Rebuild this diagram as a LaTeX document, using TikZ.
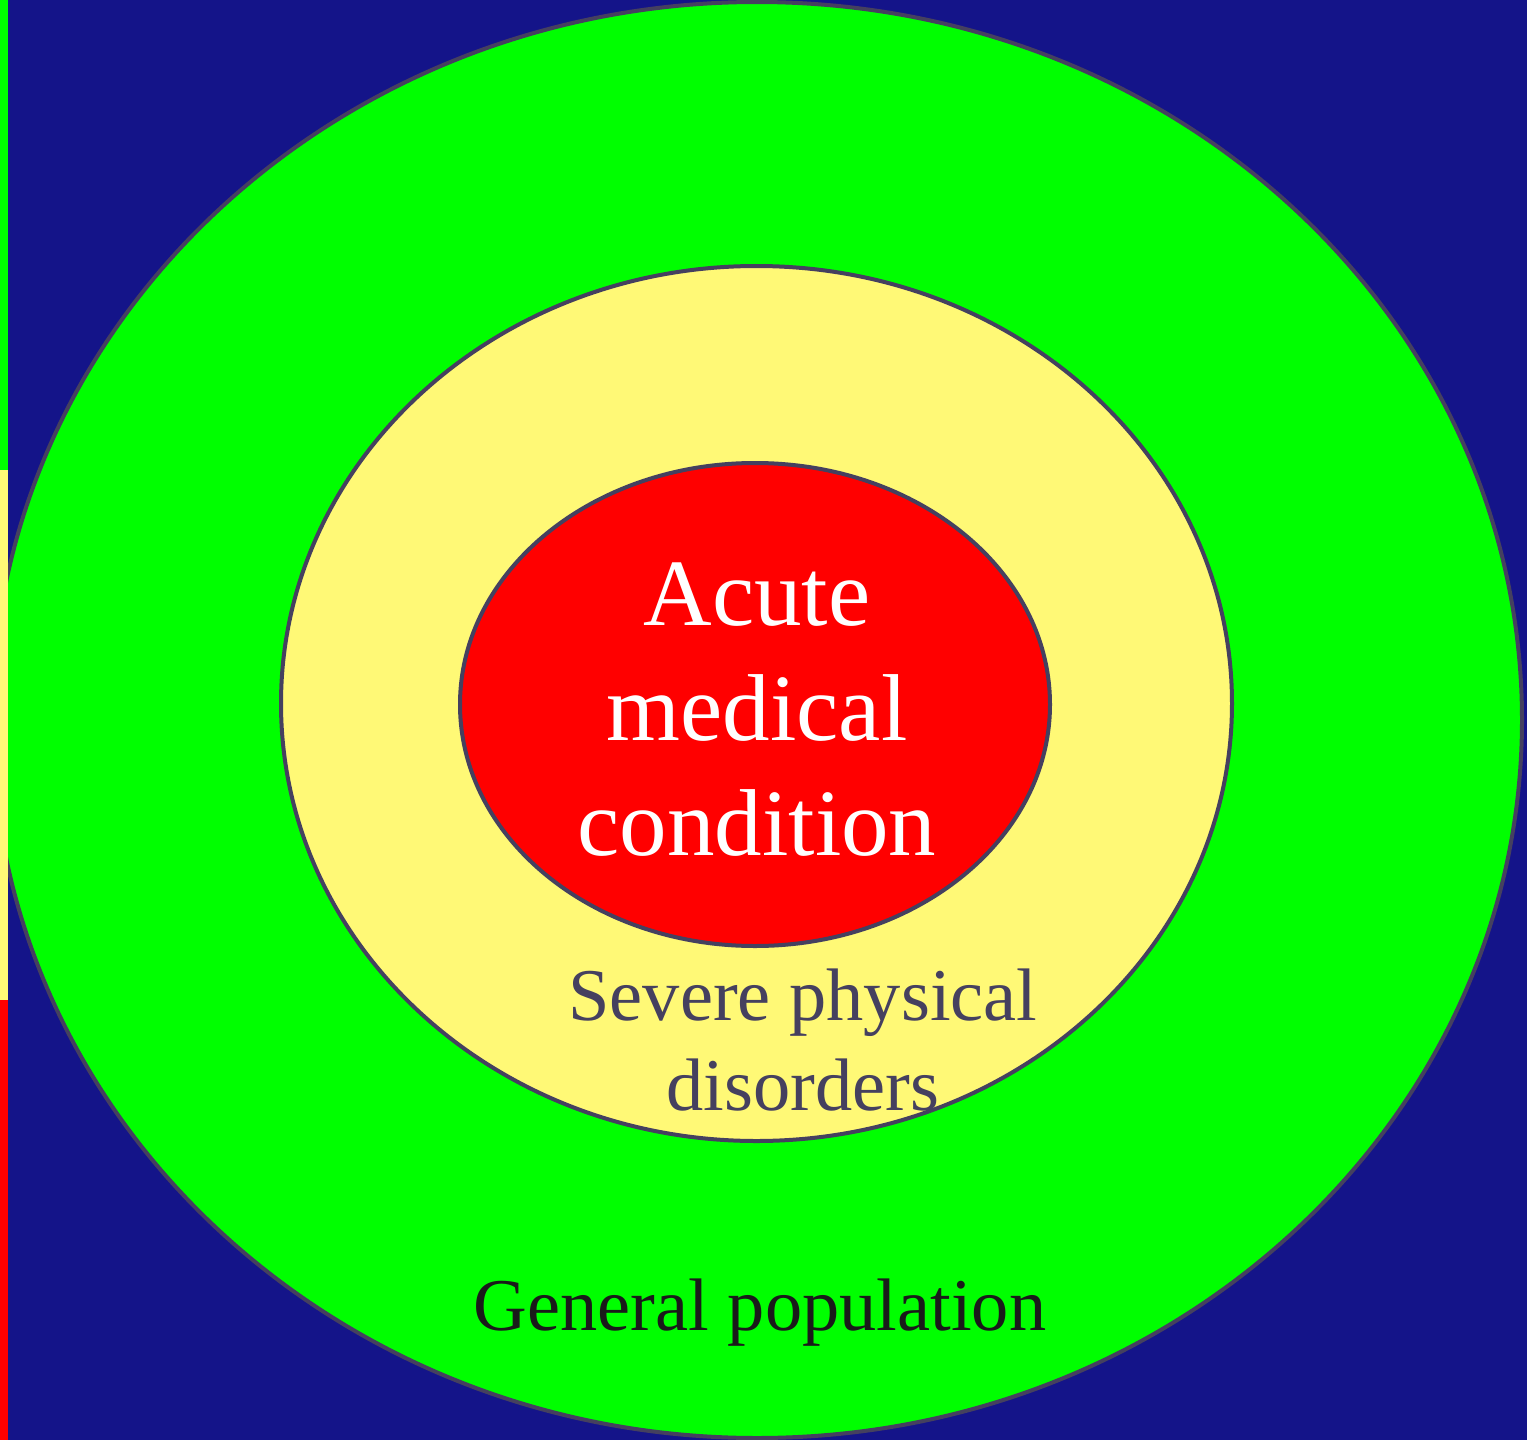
\documentclass[tikz,border=0pt]{standalone}
\usepackage{fontspec}
\setmainfont{Liberation Serif}
\definecolor{navy}{HTML}{141489}
\definecolor{ringgreen}{HTML}{00FF00}
\definecolor{ringyellow}{HTML}{FFF976}
\definecolor{ringred}{HTML}{FF0000}
\definecolor{rim}{HTML}{45405F}
\definecolor{darktext}{HTML}{1A1A1A}
\begin{document}
\begin{tikzpicture}[x=1pt,y=-1pt,
  ring/.style={draw=rim, line width=4pt},
  bigtext/.style={anchor=base, inner sep=0pt, font=\fontsize{95}{114}\selectfont, text=white},
  midtext/.style={anchor=base, inner sep=0pt, font=\fontsize{74.4}{90}\selectfont}]
  \useasboundingbox (0,0) rectangle (1527,1440);
  \fill[navy] (0,0) rectangle (1527,1440);
  \filldraw[ring, fill=ringgreen] (757,720) ellipse [x radius=765, y radius=718];
  \filldraw[ring, fill=ringyellow] (756.5,703.5) ellipse [x radius=475.5, y radius=437.5];
  \filldraw[ring, fill=ringred] (755,704.5) ellipse [x radius=295, y radius=241.5];
  % left strip
  \fill[ringgreen] (0,0) rectangle (8,470);
  \fill[ringyellow] (0,470) rectangle (8,1000);
  \fill[ringred] (0,1000) rectangle (8,1440);
  % labels
  \node[bigtext] (acute1) at (757,625) {Acute};
  \node[bigtext] (acute2) at (757,740) {medical};
  \node[bigtext] (acute3) at (757,855) {condition};
  \node[midtext, text=rim] (severe1) at (803,1020) {Severe physical};
  \node[midtext, text=rim] (severe2) at (803,1110) {disorders};
  \node[midtext, text=darktext] (general) at (760,1330) {General population};
\end{tikzpicture}
\end{document}
